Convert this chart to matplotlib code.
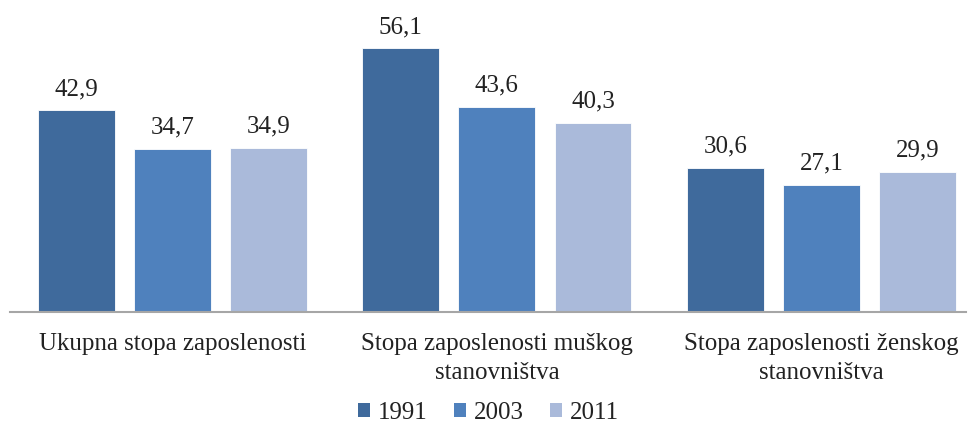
import matplotlib.pyplot as plt
import numpy as np
from matplotlib.patches import Patch

plt.rcParams['font.family'] = ['Liberation Serif', 'DejaVu Serif']

categories = ['Ukupna stopa zaposlenosti',
              'Stopa zaposlenosti muškog\nstanovništva',
              'Stopa zaposlenosti ženskog\nstanovništva']
years = ['1991', '2003', '2011']
v1991 = [42.9, 56.1, 30.6]
v2003 = [34.7, 43.6, 27.1]
v2011 = [34.9, 40.3, 29.9]
colors = ['#3F6A9C', '#4F81BD', '#AABADA']

fig = plt.figure(figsize=(9.71, 4.24), dpi=100)
ax = fig.add_axes([10 / 971, 112 / 424, 956 / 971, 312 / 424])

x = np.arange(len(categories))
w = 0.237
step = 0.296
for k, (vals, c) in enumerate(zip([v1991, v2003, v2011], colors)):
    bars = ax.bar(x + (k - 1) * step, vals, width=w, color=c,
                  edgecolor='white', linewidth=0.6, zorder=2)
    for b, v in zip(bars, vals):
        ax.annotate(f'{v:.1f}'.replace('.', ','),
                    (b.get_x() + b.get_width() / 2, v),
                    xytext=(0, 11), textcoords='offset points',
                    ha='center', va='baseline', fontsize=18, color='#222222')

ax.set_xlim(-0.5, 2.445)
ax.set_ylim(0, 66.4)
ax.set_xticks(x)
ax.set_xticklabels(categories, fontsize=18, color='#222222', linespacing=1.4)
ax.tick_params(axis='x', length=0, pad=15)
ax.set_yticks([])
for s in ['top', 'right', 'left']:
    ax.spines[s].set_visible(False)
ax.spines['bottom'].set_color('#A6A6A6')
ax.spines['bottom'].set_linewidth(1.5)

handles = [Patch(facecolor=c, label=y) for c, y in zip(colors, years)]
fig.legend(handles=handles, loc='lower center', bbox_to_anchor=(0.503, -0.052),
           ncol=3, frameon=False, fontsize=18, handlelength=0.5,
           handleheight=0.5, handletextpad=0.3, columnspacing=1.05,
           labelcolor='#222222')

fig.savefig('out.png', dpi=100)
